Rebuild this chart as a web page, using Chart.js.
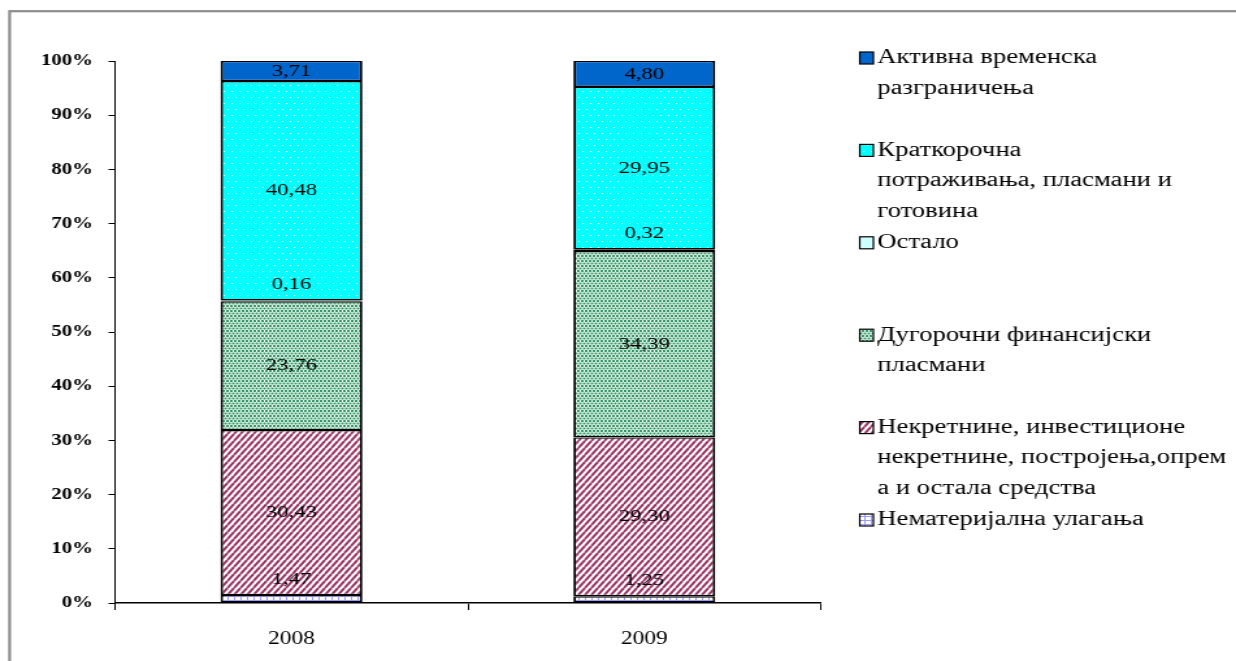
<!DOCTYPE html>
<html>
<head>
<meta charset="utf-8">
<script src="https://cdn.jsdelivr.net/npm/chart.js@4"></script>
<style>
  html, body { margin: 0; padding: 0; background: #fff; overflow: hidden; }
  #chart { display: block; }
</style>
</head>
<body>
<canvas id="chart" width="951" height="661" style="width:1236px;height:661px"></canvas>
<script>
// Structure of assets, % of total
const categories = ['2008', '2009'];
const intangible = [1.47, 1.25];     // Нематеријална улагања
const property = [30.43, 29.30];     // Некретнине, постројења, опрема...
const longTermFin = [23.76, 34.39];  // Дугорочни финансијски пласмани
const other = [0.16, 0.32];          // Остало
const shortTerm = [40.48, 29.95];    // Краткорочна потраживања...
const accruals = [3.71, 4.80];       // Активна временска разграничења

const seriesNames = [
  'Нематеријална улагања',
  'Некретнине, инвестиционе некретнине, постројења,опрема и остала средства',
  'Дугорочни финансијски пласмани',
  'Остало',
  'Краткорочна потраживања, пласмани и готовина',
  'Активна временска разграничења'
];
// legend text split into lines (top entry first)
const legendLines = [
  ['Активна временска', 'разграничења'],
  ['Краткорочна', 'потраживања, пласмани и', 'готовина'],
  ['Остало'],
  ['Дугорочни финансијски', 'пласмани'],
  ['Некретнине, инвестиционе', 'некретнине, постројења,опрем', 'а и остала средства'],
  ['Нематеријална улагања']
];

const SERIF = '"Liberation Serif", "Times New Roman", serif';

function makePattern(w, h, paint) {
  const c = document.createElement('canvas');
  c.width = w; c.height = h;
  const g = c.getContext('2d');
  paint(g, w, h);
  return document.createElement('canvas').getContext('2d').createPattern(c, 'repeat');
}

// cyan with fine white dots
const dotsCyan = makePattern(6, 12, (g, w, h) => {
  g.fillStyle = '#00FFFF'; g.fillRect(0, 0, w, h);
  g.fillStyle = '#FFFFFF';
  g.fillRect(1, 1, 1, 1);
  g.fillRect(4, 7, 1, 1);
});
// green confetti on white, brick-offset rows
const dotsGreen = makePattern(6, 5, (g, w, h) => {
  g.fillStyle = '#FFFFFF'; g.fillRect(0, 0, w, h);
  g.fillStyle = '#339966';
  g.fillRect(0, 0, 2, 2);
  g.fillRect(3, 0, 2, 2);
  g.fillRect(1.5, 2.5, 2, 2);
  g.fillRect(4.5, 2.5, 1.5, 2);
  g.fillRect(0, 2.5, 0.5, 2);
});
// maroon diagonal stripes
const stripes = makePattern(5, 7, (g, w, h) => {
  g.fillStyle = '#FFFFFF'; g.fillRect(0, 0, w, h);
  g.strokeStyle = '#993366'; g.lineWidth = 2;
  for (let k = -1; k <= 1; k++) {
    g.beginPath();
    g.moveTo(k * w, h);
    g.lineTo(k * w + w, 0);
    g.stroke();
  }
});
// lavender small grid
const grid = makePattern(5, 4, (g, w, h) => {
  g.fillStyle = '#FFFFFF'; g.fillRect(0, 0, w, h);
  g.fillStyle = '#9999FF';
  g.fillRect(0, 0, w, 1);
  g.fillRect(0, 0, 1, h);
});

const fills = [grid, stripes, dotsGreen, '#CCFFFF', dotsCyan, '#0066CC'];
const values = [intangible, property, longTermFin, other, shortTerm, accruals];

const datasets = values.map((data, i) => ({
  label: seriesNames[i],
  data: data,
  backgroundColor: fills[i],
  borderColor: '#000000',
  borderWidth: { left: 2, right: 2, top: 1.4, bottom: 1.4 },
  borderSkipped: false,
  categoryPercentage: 1.0,
  barPercentage: 0.402
}));

const framePlugin = {
  id: 'frame',
  beforeDraw(chart) {
    const ctx = chart.ctx;
    ctx.save();
    ctx.fillStyle = '#FFFFFF';
    ctx.fillRect(0, 0, chart.width, chart.height);
    ctx.strokeStyle = '#8C8C8C';
    ctx.lineWidth = 2.2;
    ctx.strokeRect(7.4, 11.2, chart.width + 20, chart.height + 20);
    ctx.restore();
  }
};

const valueLabels = {
  id: 'valueLabels',
  afterDatasetsDraw(chart) {
    const ctx = chart.ctx;
    ctx.save();
    ctx.font = '17.5px ' + SERIF;
    ctx.fillStyle = '#000000';
    ctx.textAlign = 'center';
    ctx.textBaseline = 'middle';
    chart.data.datasets.forEach((ds, i) => {
      chart.getDatasetMeta(i).data.forEach((bar, j) => {
        const v = ds.data[j];
        const text = v.toFixed(2).replace('.', ',');
        const top = Math.min(bar.y, bar.base);
        const y = v < 2 ? top - 16 : (bar.y + bar.base) / 2;
        ctx.fillText(text, bar.x, y);
      });
    });
    ctx.restore();
  }
};

const sideLegend = {
  id: 'sideLegend',
  afterDraw(chart) {
    const ctx = chart.ctx;
    const boxX = 661.5, textX = 675, firstY = 58, slot = 92.4, lineH = 30.5;
    const order = fills.slice().reverse();
    ctx.save();
    ctx.font = '20.5px ' + SERIF;
    ctx.fillStyle = '#000000';
    ctx.textAlign = 'left';
    ctx.textBaseline = 'middle';
    legendLines.forEach((lines, i) => {
      const y0 = firstY + i * slot;
      ctx.fillStyle = order[i];
      ctx.fillRect(boxX, y0 - 6, 10.5, 12);
      ctx.strokeStyle = '#000000';
      ctx.lineWidth = 1.2;
      ctx.strokeRect(boxX, y0 - 6, 10.5, 12);
      ctx.fillStyle = '#000000';
      lines.forEach((t, k) => ctx.fillText(t, textX, y0 + k * lineH));
    });
    ctx.restore();
  }
};

new Chart(document.getElementById('chart'), {
  type: 'bar',
  data: { labels: categories, datasets: datasets },
  options: {
    responsive: false,
    animation: false,
    devicePixelRatio: 1,
    layout: { padding: { left: 0, top: 61, right: 319.5, bottom: 0 } },
    plugins: { legend: { display: false }, tooltip: { enabled: false } },
    scales: {
      x: {
        stacked: true,
        offset: true,
        grid: { offset: true, drawOnChartArea: false, drawTicks: true, tickLength: 7, color: '#000000', lineWidth: 1 },
        border: { display: true, color: '#000000', width: 1.6 },
        ticks: { color: '#000000', font: { family: SERIF, size: 18 }, padding: 18, maxRotation: 0 },
        afterFit(s) { s.height = 58; }
      },
      y: {
        stacked: true,
        min: 0,
        max: 100,
        grid: { drawOnChartArea: false, drawTicks: true, tickLength: 5, color: '#000000', lineWidth: 1 },
        border: { display: true, color: '#000000', width: 1 },
        ticks: {
          stepSize: 10,
          color: '#000000',
          padding: 12,
          font: { family: SERIF, size: 16, weight: 'bold' },
          callback: v => v + '%'
        },
        afterFit(s) { s.width = 88.5; }
      }
    }
  },
  plugins: [framePlugin, valueLabels, sideLegend]
});
</script>
</body>
</html>
